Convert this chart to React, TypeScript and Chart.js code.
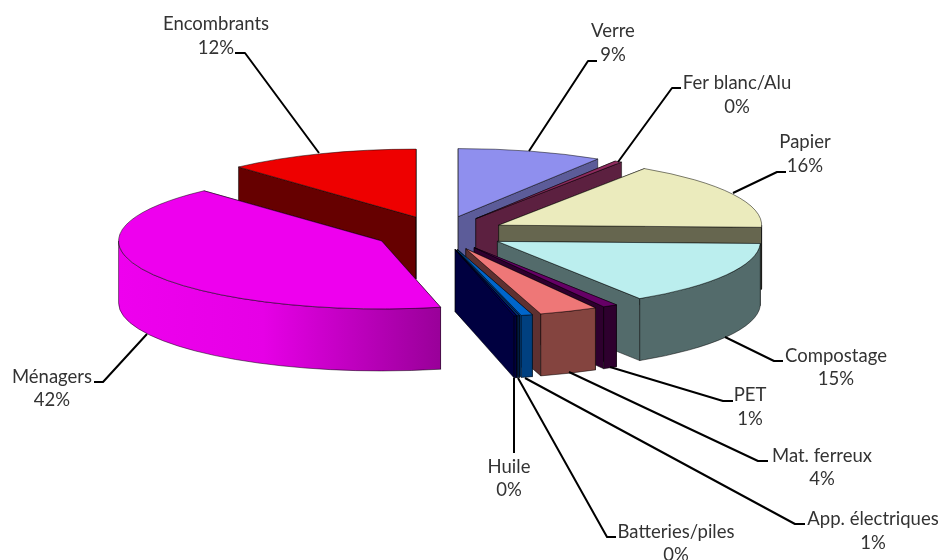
import React, { useEffect, useRef } from "react";
import { Chart, registerables } from "chart.js";

Chart.register(...registerables);

const categories = ["Verre", "Fer blanc/Alu", "Papier", "Compostage", "PET", "Mat. ferreux", "App. électriques", "Batteries/piles", "Huile", "Ménagers", "Encombrants"];
const shares = [8.9, 0.45, 16.15, 15.4, 0.9, 3.6, 0.7, 0.15, 0.15, 41.8, 11.8];
const topColors = ["#8f8fee", "#8e2b5e", "#ebebbd", "#bbeeee", "#660066", "#ee7777", "#0066cc", "#00307a", "#000066", "#ee00ee", "#ee0000"];
const wallColors = ["#5c5c99", "#5c2040", "#66664f", "#536b6b", "#2e002e", "#5e3030", "#004080", "#001a40", "#000040", "#ee00ee", "#660000"];
const rimColors = ["#5c5c99", "#5c2040", "#66664f", "#536b6b", "#2e002e", "#84443f", "#004080", "#001a40", "#000040", "#ee00ee", "#660000"];
const paintOrder = [0, 1, 2, 3, 4, 5, 6, 7, 8, 10, 9];

// label layout: [centre x, first line y, second line y] and leader polylines
const labelAnchors = [[613, 31, 55], [737, 83, 107], [805, 142, 166], [836, 356, 379], [750, 395, 419], [822, 456, 479], [873, 519, 543], [676, 532, 555], [509, 467, 490], [52, 377, 400], [216, 24, 48]];
const leaders = [
  [[529, 151], [588, 61], [597, 61]],
  [[618, 162], [672, 88], [681, 88]],
  [[733, 193], [777, 172], [786, 172]],
  [[725, 337], [774, 361], [783, 361]],
  [[610, 367], [723, 401], [733, 401]],
  [[569, 372], [758, 461], [768, 461]],
  [[525, 378], [795, 524], [805, 524]],
  [[518, 378], [607, 537], [616, 537]],
  [[514, 378], [514, 453]],
  [[147, 334], [103, 382], [94, 382]],
  [[319, 153], [245, 53], [235, 53]],
];

const CX = 440, CY = 233, RX = 263, RY = 68, DEPTH = 62, BLOW = 66;

const pie3d = {
  id: "pie3d",
  beforeDatasetsDraw(chart: any) {
    const ctx = chart.ctx as CanvasRenderingContext2D;
    const arcs = chart.getDatasetMeta(0).data;
    const ky = RY / RX;
    const edge = "rgba(0,0,0,0.7)";

    paintOrder.forEach((i) => {
      const el = arcs[i];
      const a = el.startAngle, b = el.endAngle;
      const mid = (a + b) / 2;
      const ox = CX + BLOW * Math.cos(mid);
      const oy = CY + BLOW * ky * Math.sin(mid);
      const pt = (t: number) => [ox + RX * Math.cos(t), oy + RY * Math.sin(t)];
      const quad = (p: number[], q: number[], fill: string) => {
        ctx.beginPath();
        ctx.moveTo(p[0], p[1]);
        ctx.lineTo(q[0], q[1]);
        ctx.lineTo(q[0], q[1] + DEPTH);
        ctx.lineTo(p[0], p[1] + DEPTH);
        ctx.closePath();
        ctx.fillStyle = fill;
        ctx.fill();
        ctx.lineWidth = 0.7;
        ctx.strokeStyle = edge;
        ctx.stroke();
      };
      const walls = [
        { t: a, front: -Math.cos(a) > 0 },
        { t: b, front: Math.cos(b) > 0 },
      ].sort((u, v) => Number(u.front) - Number(v.front));
      walls.forEach((w) => quad([ox, oy], pt(w.t), wallColors[i]));

      // outer rim, only the part facing the viewer
      let s = a, e = b;
      if (a < 0 && b > 0) s = 0;
      if (b > Math.PI) e = Math.PI;
      if (a >= Math.PI || b <= 0) { s = 0; e = -1; }
      if (e > s) {
        ctx.beginPath();
        ctx.ellipse(ox, oy, RX, RY, 0, s, e);
        ctx.ellipse(ox, oy + DEPTH, RX, RY, 0, e, s, true);
        ctx.closePath();
        if (i === 9) {
          const g = ctx.createLinearGradient(118, 0, 441, 0);
          g.addColorStop(0, "#ee00ee");
          g.addColorStop(0.45, "#e600e6");
          g.addColorStop(1, "#990099");
          ctx.fillStyle = g;
        } else {
          ctx.fillStyle = rimColors[i];
        }
        ctx.fill();
        ctx.lineWidth = 0.7;
        ctx.strokeStyle = edge;
        ctx.stroke();
      }

      // top face: the library's own arc, squashed and moved out
      const k = RX / el.outerRadius;
      ctx.save();
      ctx.translate(ox, oy);
      ctx.scale(k, k * ky);
      ctx.translate(-el.x, -el.y);
      el.draw(ctx);
      ctx.restore();

      ctx.beginPath();
      ctx.moveTo(ox, oy);
      ctx.ellipse(ox, oy, RX, RY, 0, a, b);
      ctx.closePath();
      ctx.lineWidth = 0.7;
      ctx.strokeStyle = edge;
      ctx.stroke();
    });
    return false;
  },
  afterDraw(chart: any) {
    const ctx = chart.ctx as CanvasRenderingContext2D;
    ctx.save();
    ctx.strokeStyle = "#000000";
    ctx.lineWidth = 2;
    ctx.lineJoin = "round";
    leaders.forEach((line) => {
      ctx.beginPath();
      line.forEach((p, n) => (n ? ctx.lineTo(p[0], p[1]) : ctx.moveTo(p[0], p[1])));
      ctx.stroke();
    });
    ctx.fillStyle = "#333333";
    ctx.font = "18.5px Lato";
    ctx.textAlign = "center";
    ctx.textBaseline = "middle";
    categories.forEach((name, i) => {
      const [x, y1, y2] = labelAnchors[i];
      ctx.fillText(name, x, y1);
      ctx.fillText(`${Math.round(shares[i])}%`, x, y2);
    });
    ctx.restore();
  },
};

export default function App() {
  const ref = useRef<HTMLCanvasElement>(null);
  useEffect(() => {
    const chart = new Chart(ref.current as HTMLCanvasElement, {
      type: "pie",
      data: {
        labels: categories,
        datasets: [{ data: shares, backgroundColor: topColors, borderWidth: 0, offset: 0 }],
      },
      options: {
        responsive: false,
        animation: false,
        plugins: { legend: { display: false }, tooltip: { enabled: false }, title: { display: false } },
      },
      plugins: [pie3d],
    } as any);
    return () => chart.destroy();
  }, []);
  return (
    <div style={{ position: "fixed", left: 0, top: 0, width: 942, height: 560, background: "#fff" }}>
      <canvas ref={ref} width={942} height={560} style={{ display: "block" }} />
    </div>
  );
}
